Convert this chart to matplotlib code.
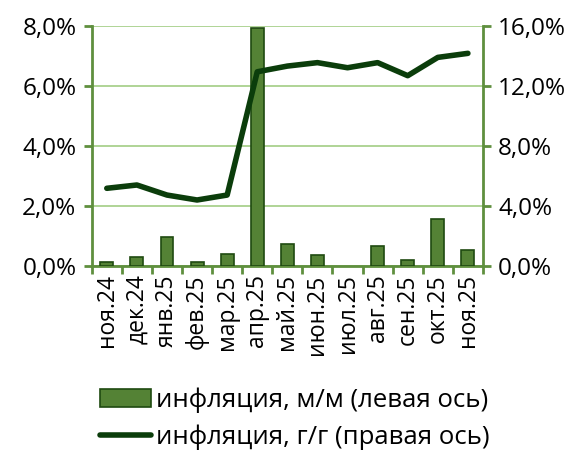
import matplotlib.pyplot as plt
import numpy as np
from matplotlib.ticker import FuncFormatter, FixedLocator

plt.rcParams['font.family'] = ['Open Sans', 'DejaVu Sans']

months = ['ноя.24', 'дек.24', 'янв.25', 'фев.25', 'мар.25', 'апр.25', 'май.25',
          'июн.25', 'июл.25', 'авг.25', 'сен.25', 'окт.25', 'ноя.25']
mom = [0.14, 0.31, 0.97, 0.13, 0.41, 7.92, 0.74, 0.37, np.nan, 0.67, 0.21, 1.58, 0.52]
yoy = [5.18, 5.40, 4.73, 4.40, 4.73, 12.95, 13.33, 13.56, 13.22, 13.56, 12.69, 13.91, 14.18]

bar_c = '#548235'
edge_c = '#1f4a10'
line_c = '#0b3d0b'
axis_c = '#5f8f3e'
grid_c = '#a9d18e'

fig = plt.figure(figsize=(5.77, 4.57), dpi=100)
ax = fig.add_axes([0.159, 0.418, 0.678, 0.525])
ax2 = ax.twinx()

x = np.arange(len(months))
bars = ax.bar(x, mom, width=0.43, color=bar_c, edgecolor=edge_c, linewidth=1.2, zorder=3,
              label='инфляция, м/м (левая ось)')
ln, = ax2.plot(x, yoy, color=line_c, lw=4, solid_capstyle='round', zorder=4,
               label='инфляция, г/г (правая ось)')

ax.set_xlim(-0.5, len(months) - 0.5)
ax.set_ylim(0, 8)
ax2.set_ylim(0, 16)
ax.set_yticks([0, 2, 4, 6, 8])
ax2.set_yticks([0, 4, 8, 12, 16])
fmt = FuncFormatter(lambda v, p: f'{v:.1f}%'.replace('.', ','))
ax.yaxis.set_major_formatter(fmt)
ax2.yaxis.set_major_formatter(fmt)
ax.yaxis.grid(True, color=grid_c, lw=1.3, zorder=0)
ax.set_axisbelow(True)

ax.set_xticks(x)
ax.set_xticklabels(months, rotation=90)
ax.xaxis.set_major_locator(FixedLocator(x))
ax.xaxis.set_minor_locator(FixedLocator(np.arange(-0.5, len(months), 1)))
ax.tick_params(axis='x', which='major', length=0, pad=6, labelsize=16.5)
ax.tick_params(axis='x', which='minor', length=6, width=2, color=axis_c, direction='out')
ax.tick_params(axis='y', length=6, width=2, color=axis_c, labelsize=17.5, pad=5)
ax2.tick_params(axis='y', length=6, width=2, color=axis_c, labelsize=17.5, pad=5)

for a in (ax, ax2):
    a.spines['top'].set_visible(False)
    for s in ('left', 'right', 'bottom'):
        a.spines[s].set_color(axis_c)
        a.spines[s].set_linewidth(2)
ax.spines['right'].set_visible(False)
ax2.spines['left'].set_visible(False)
ax2.spines['bottom'].set_visible(False)

fig.legend(handles=[bars, ln], loc='upper left', bbox_to_anchor=(0.155, 0.175),
           frameon=False, fontsize=18.5, handlelength=2.0, handletextpad=0.2,
           labelspacing=0.45, borderaxespad=0)

fig.savefig('out.png', dpi=100)
